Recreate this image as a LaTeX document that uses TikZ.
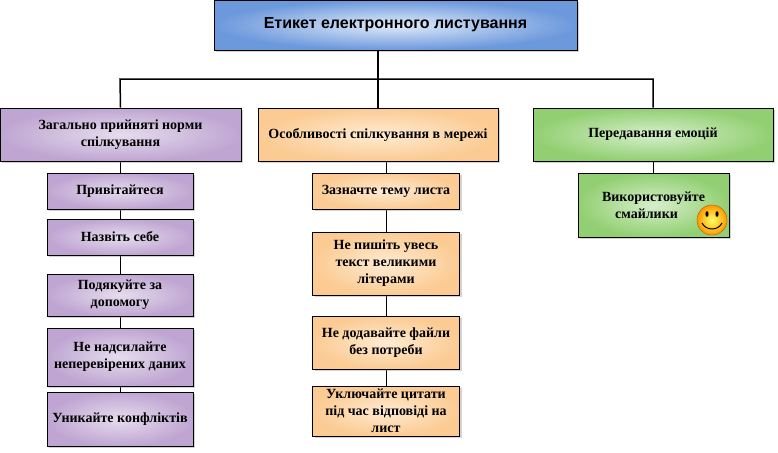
\documentclass[tikz,border=0pt]{standalone}
\usepackage{fontspec}
\setmainfont{Liberation Serif}
\newfontfamily\titlefont{Liberation Sans}
\usetikzlibrary{shadows}
\definecolor{purp}{HTML}{BFA6D2}
\definecolor{purpin}{HTML}{E6DCEE}
\definecolor{oran}{HTML}{FBCB93}
\definecolor{oranin}{HTML}{FFEBD2}
\definecolor{gren}{HTML}{92CF72}
\definecolor{grenin}{HTML}{D6EFCB}
\definecolor{blu}{HTML}{6C98DC}
\definecolor{bluin}{HTML}{E1ECFA}
\tikzset{
 box/.style={draw=black, line width=0.8pt, align=center, inner sep=1pt,
   font=\fontsize{14}{17}\selectfont\bfseries, drop shadow={shadow xshift=2pt,shadow yshift=-2pt,opacity=0.35}},
 pb/.style={box, inner color=purpin, outer color=purp},
 ob/.style={box, inner color=oranin, outer color=oran},
 gb/.style={box, inner color=grenin, outer color=gren},
 conn/.style={line width=1.5pt},
 thin/.style={line width=0.8pt}
}
\begin{document}
\begin{tikzpicture}[x=1pt,y=-1pt]
\useasboundingbox (0,0) rectangle (778,452);
\draw[thin] (120,161) -- (120,392);
\draw[thin] (386,161) -- (386,386);
\node[box, inner color=bluin, outer color=blu, minimum width=363, minimum height=50, font=\titlefont\fontsize{16}{19}\selectfont\bfseries] (top) at (395.5,25) {Етикет електронного листування};
\node[pb, minimum width=241, minimum height=53] (p) at (120.5,134.5) {Загально прийняті норми\\спілкування};
\node[ob, minimum width=240, minimum height=53] (o) at (378,134.5) {Особливості спілкування в мережі};
\node[gb, minimum width=240, minimum height=53] (g) at (653,134.5) {Передавання емоцій};
\coordinate (hl) at (120,79);
\coordinate (hr) at (653,79);
\coordinate (hm) at (378,79);
\draw[thin] (g.south) -- (653,173);
\node[pb, minimum width=146, minimum height=36] (p1) at (120,191) {Привітайтеся};
\node[pb, minimum width=146, minimum height=36] (p2) at (120,237) {Назвіть себе};
\node[pb, minimum width=146, minimum height=42] (p3) at (120,295) {Подякуйте за\\допомогу};
\node[pb, minimum width=146, minimum height=58] (p4) at (120,357) {Не надсилайте\\неперевірених даних};
\node[pb, minimum width=146, minimum height=54] (p5) at (120,419) {Уникайте конфліктів};
\node[ob, minimum width=147, minimum height=36] (o1) at (386,191) {Зазначте тему листа};
\node[ob, minimum width=147, minimum height=63] (o2) at (386,263.5) {Не пишіть увесь\\текст великими\\літерами};
\node[ob, minimum width=147, minimum height=53] (o3) at (386,342.5) {Не додавайте файли\\без потреби};
\node[ob, minimum width=147, minimum height=50] (o4) at (386,411) {Уключайте цитати\\під час відповіді на\\лист};
\node[gb, minimum width=151, minimum height=64] (g1) at (653.5,205) {Використовуйте\\смайлики\hspace*{14pt}};
\draw[conn] (top.south -| hm) -- (hm);
\draw[conn] (p.north) -- (hl) -- (hr) -- (g.north -| hr);
\draw[conn] (hm) -- (o.north -| hm);
% smiley
\node[circle, minimum size=30, inner sep=0, draw=orange!70!black, line width=0.4pt, inner color=yellow!60!white, outer color=orange!80!yellow] (sm) at (712,220) {};
\fill (707,214) ellipse (1.6 and 2.8);
\fill (717,214) ellipse (1.6 and 2.8);
\draw[line width=1pt] (702,223) .. controls (706,231) and (718,231) .. (722,223);
\end{tikzpicture}
\end{document}
